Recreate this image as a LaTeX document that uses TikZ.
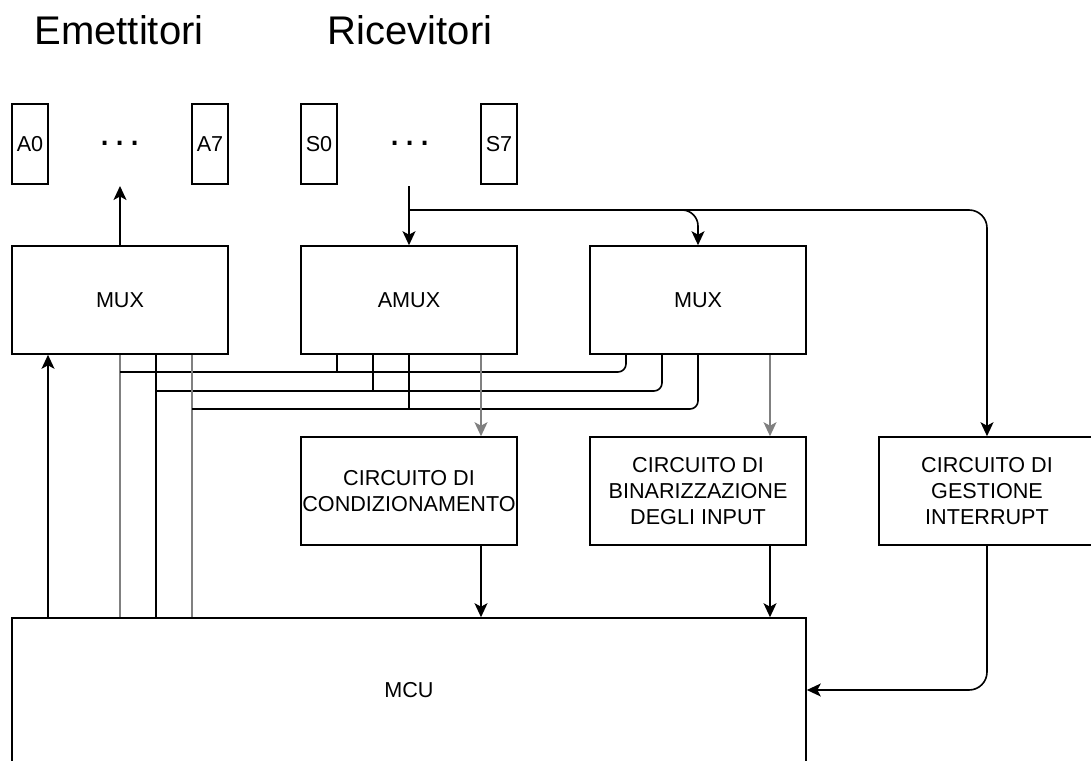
\documentclass[tikz,border=0pt]{standalone}
\usepackage{fontspec}
\setmainfont{Liberation Sans}
\usetikzlibrary{arrows.meta}

\begin{document}
\begin{tikzpicture}[x=1pt, y=-1pt, line width=1.6pt,
    >={Stealth[length=14pt, width=13pt, inset=3.5pt]},
    box/.style={draw, minimum width=216pt, minimum height=108pt, inner sep=0pt,
        align=center, font=\fontsize{21.6}{26}\selectfont},
    pin/.style={draw, minimum width=36pt, minimum height=80pt, inner sep=0pt,
        font=\fontsize{21.6}{26}\selectfont},
    heading/.style={font=\fontsize{40}{48}\selectfont},
    faint/.style={black!50}]
    \useasboundingbox (0,0) rectangle (1091,760);

    % sensors
    \node[heading] (emit) at (119,30) {Emettitori};
    \node[heading] (recv) at (410,30) {Ricevitori};
    \node[pin] (a0) at (30,144) {A0};
    \node[pin] (a7) at (210,144) {A7};
    \node[pin] (s0) at (319,144) {S0};
    \node[pin] (s7) at (499,144) {S7};
    \node[heading] (edots) at (120,143) {.\hspace{4pt}.\hspace{4pt}.};
    \node[heading] (rdots) at (410,143) {.\hspace{4pt}.\hspace{4pt}.};
    \coordinate (eup) at (120,186);
    \coordinate (rdown) at (409,186);
    \coordinate (split) at (409,210);

    % blocks
    \node[box] (muxe) at (120,300) {MUX};
    \node[box] (amux) at (409,300) {AMUX};
    \node[box] (muxr) at (698,300) {MUX};
    \node[box] (cond) at (409,491) {CIRCUITO DI\\CONDIZIONAMENTO};
    \node[box] (bin) at (698,491) {CIRCUITO DI\\BINARIZZAZIONE\\DEGLI INPUT};
    \node[box] (irq) at (987,491) {CIRCUITO DI\\GESTIONE\\INTERRUPT};
    \node[box, minimum width=794pt, minimum height=144pt] (mcu) at (409,690) {MCU};

    \draw[->] (muxe.north) -- (eup);
    \draw[->] (rdown) -- (amux.north);
    \draw[->, rounded corners=16pt] (split) -| (muxr.north);
    \draw[->, rounded corners=18pt] (split) -| (irq.north);

    % select lines
    \foreach \i/\dx/\y/\c in {1/0/372/black!50, 2/36/391/black, 3/72/409/black!50} {
        \coordinate (row\i) at (0,\y);
        \coordinate (e\i) at ([xshift=\dx pt]muxe.south);
        \coordinate (a\i) at ([xshift=\dx pt-72pt]amux.south);
        \coordinate (r\i) at ([xshift=\dx pt-72pt]muxr.south);
        \draw[\c] (e\i |- mcu.north) -- (e\i);
        \draw (a\i) -- (a\i |- row\i);
        \draw[rounded corners=8pt] (r\i) |- (e\i |- row\i);
    }
    \coordinate (e0) at ([xshift=-72pt]muxe.south);
    \draw[->] (e0 |- mcu.north) -- (e0);

    % signal path
    \draw[->, faint] ([xshift=72pt]amux.south) -- ([xshift=72pt]cond.north);
    \draw[->, faint] ([xshift=72pt]muxr.south) -- ([xshift=72pt]bin.north);
    \coordinate (c1) at ([xshift=72pt]cond.south);
    \coordinate (b1) at ([xshift=72pt]bin.south);
    \draw[->] (c1) -- (c1 |- mcu.north);
    \draw[->] (b1) -- (b1 |- mcu.north);
    \draw[->, rounded corners=18pt] (irq.south) |- (mcu.east);
\end{tikzpicture}
\end{document}
